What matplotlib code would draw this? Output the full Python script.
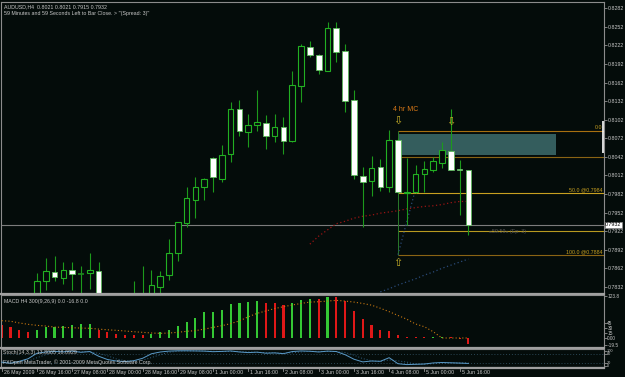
import numpy as np
import matplotlib
matplotlib.use('Agg')
import matplotlib.pyplot as plt
from matplotlib.patches import Rectangle
from matplotlib.lines import Line2D

plt.rcParams['font.family'] = ['Liberation Sans', 'DejaVu Sans']

# ---- values (AUDUSD H4)
opens = [0.7812, 0.7798, 0.7806, 0.7800, 0.7812, 0.7842, 0.7856, 0.7847, 0.7860, 0.7853,
         0.7854, 0.7857, 0.7812, 0.7800, 0.7808, 0.7802, 0.7810, 0.7815, 0.7832, 0.7851,
         0.7886, 0.7935, 0.7973, 0.7993, 0.8040, 0.8007, 0.8046, 0.8119, 0.8082, 0.8094,
         0.8097, 0.8076, 0.8091, 0.8068, 0.8157, 0.8219, 0.8206, 0.8181, 0.8250, 0.8213,
         0.8134, 0.8011, 0.8003, 0.8025, 0.7993, 0.8069, 0.7984, 0.7985, 0.8014, 0.8020,
         0.8032, 0.8052, 0.8023, 0.8021]
highs = [0.7820, 0.7815, 0.7818, 0.7816, 0.7855, 0.7878, 0.7882, 0.7872, 0.7872, 0.7865,
         0.7886, 0.7872, 0.7820, 0.7815, 0.7818, 0.7841, 0.7865, 0.7859, 0.7858, 0.7910,
         0.7937, 0.7994, 0.8009, 0.8008, 0.8041, 0.8061, 0.8131, 0.8134, 0.8112, 0.8150,
         0.8109, 0.8112, 0.8106, 0.8181, 0.8225, 0.8229, 0.8209, 0.8260, 0.8260, 0.8224,
         0.8150, 0.8026, 0.8043, 0.8038, 0.8085, 0.8072, 0.8040, 0.8029, 0.8035, 0.8042,
         0.8066, 0.8120, 0.8037, 0.8021]
lows = [0.7790, 0.7785, 0.7792, 0.7795, 0.7805, 0.7827, 0.7842, 0.7837, 0.7827, 0.7815,
        0.7829, 0.7805, 0.7795, 0.7790, 0.7795, 0.7792, 0.7800, 0.7805, 0.7820, 0.7843,
        0.7873, 0.7929, 0.7943, 0.7972, 0.7986, 0.8002, 0.8034, 0.8076, 0.8058, 0.8084,
        0.8055, 0.8066, 0.8047, 0.8066, 0.8131, 0.8203, 0.8176, 0.8180, 0.8196, 0.8115,
        0.8007, 0.7929, 0.7979, 0.7987, 0.7986, 0.7984, 0.7932, 0.7983, 0.7986, 0.8018,
        0.8024, 0.8021, 0.7948, 0.7915]
closes = [0.7798, 0.7806, 0.7800, 0.7810, 0.7841, 0.7857, 0.7848, 0.7859, 0.7852, 0.7853,
          0.7859, 0.7812, 0.7800, 0.7808, 0.7802, 0.7810, 0.7815, 0.7835, 0.7850, 0.7886,
          0.7936, 0.7975, 0.7993, 0.8006, 0.8009, 0.8045, 0.8119, 0.8083, 0.8093, 0.8098,
          0.8075, 0.8091, 0.8067, 0.8158, 0.8221, 0.8206, 0.8182, 0.8250, 0.8212, 0.8133,
          0.8012, 0.8002, 0.8024, 0.7993, 0.8070, 0.7986, 0.7985, 0.8014, 0.8022, 0.8035,
          0.8053, 0.8021, 0.8021, 0.7932]

# red dotted moving average (bars 35..53)
ma_start = 35
ma_vals = [0.7901, 0.7914, 0.7924, 0.7934, 0.7938, 0.7943, 0.7946, 0.7948, 0.7951, 0.7953,
           0.7955, 0.7958, 0.7960, 0.7962, 0.7963, 0.7965, 0.7968, 0.7970, 0.7970]
# faint blue dotted line (bars 43..53)
blue_start = 43
blue_vals = [0.7824, 0.7829, 0.7835, 0.7840, 0.7845, 0.7851, 0.7856, 0.7862, 0.7867, 0.7872, 0.7877]

macd_hist = [39, 32, 24, 18, 24, 32, 33, 36, 39, 40, 41, 24, 19, 11, 10, 9.5, 8, 11, 17, 24,
             35, 48, 59, 75, 76, 83, 98, 102, 106, 107, 103, 102, 97, 103, 110, 115, 114, 121, 120, 107,
             78, 56, 39, 24, 21, 10, 3, 2.5, 2, 2.5, 2.6, 2, -2, -16.8]
macd_signal = [50.6, 49, 44, 40, 37, 35, 32, 31, 30, 29, 28.4, 26, 24, 22.5, 20.5, 18.4, 16.6, 14.6, 13.6, 14.6,
               16.6, 19.6, 21.5, 26, 31, 36, 42, 50, 62, 72, 79, 86, 91.5, 96.5, 101, 105, 106, 108, 110, 108,
               105, 101, 96, 87, 77, 66, 55, 41, 33, 18.5, 0, 0, 0, 0]

stoch_main = [22, 15, 28, 45, 82, 90, 94, 91, 96, 88, 93, 62, 40, 30, 26, 32, 48, 78, 90, 96,
              98, 98, 97, 96, 92, 94, 97, 90, 86, 89, 82, 84, 79, 93, 97, 95, 90, 96, 93, 72,
              42, 24, 30, 28, 52, 12, 6, 8, 10, 17, 20, 18, 16, 13.8]
stoch_sig = [30, 24, 22, 29, 52, 72, 89, 92, 94, 92, 92, 81, 65, 44, 32, 29, 35, 53, 72, 88,
             95, 97, 98, 97, 95, 94, 94, 94, 91, 88, 86, 85, 82, 85, 90, 95, 94, 94, 93, 87,
             69, 46, 32, 27, 37, 31, 23, 9, 8, 12, 16, 18, 18, 18.1]

price_ticks = [0.7832, 0.7862, 0.7892, 0.7922, 0.7952, 0.7982, 0.8012, 0.8042, 0.8072,
               0.8102, 0.8132, 0.8162, 0.8192, 0.8222, 0.8252, 0.8282]
last_price = 0.7932
fib_levels = [0.8084, 0.8042, 0.7984, 0.7922, 0.7884]
fib_labels = {0.8084: '0.0', 0.7984: '50.0 @0.7984', 0.7884: '100.0 @0.7884'}

time_pos = [0, 4, 8, 12, 16, 20, 24, 28, 32, 36, 40, 44, 48, 52]
time_labels = ['26 May 2009', '26 May 16:00', '27 May 08:00', '28 May 00:00', '28 May 16:00',
               '29 May 08:00', '1 Jun 00:00', '1 Jun 16:00', '2 Jun 08:00', '3 Jun 00:00',
               '3 Jun 16:00', '4 Jun 08:00', '5 Jun 00:00', '5 Jun 16:00']

# ---- style
bg = '#040c0a'
fg = '#c8c8c8'
sep = '#a0a0a0'
bull_col = '#22b022'
fs = 3.8
W, H = 625, 377


def pos(x0, y0, x1, y1):
    return [x0 / W, 1 - y1 / H, (x1 - x0) / W, (y1 - y0) / H]


fig = plt.figure(figsize=(W / 100, H / 100), dpi=100, facecolor=bg)
ax = fig.add_axes(pos(1, 2, 604, 293))
ax2 = fig.add_axes(pos(1, 295, 604, 347))
ax3 = fig.add_axes(pos(1, 349, 604, 367))
xl = (-0.08, 68.4)

for a in (ax, ax2, ax3):
    a.set_facecolor(bg)
    a.set_xlim(*xl)
    a.yaxis.tick_right()
    a.tick_params(axis='y', colors='#909090', labelcolor=fg, labelsize=fs, length=1.8, width=0.6, pad=0.6)
    a.tick_params(axis='x', bottom=False, labelbottom=False)
    for s in a.spines.values():
        s.set_color('#8c8c8c')
        s.set_linewidth(0.8)
    a.spines['bottom'].set_visible(False)

# ---- main price panel
ax.set_ylim(0.78221, 0.82922)
ax.set_yticks(price_ticks)
ax.set_yticklabels(['%.4f' % p for p in price_ticks])

# box zone
box_x0, box_x1, box_lo, box_hi = 44.95, 62.9, 0.8045, 0.8079
ax.add_patch(Rectangle((box_x0, box_lo), box_x1 - box_x0, box_hi - box_lo,
                       facecolor='#345d5d', edgecolor='none', zorder=1))
fib_cols = ['#a87010', '#8a6414', '#c8a020', '#b89a20', '#8a6414']
for p, c in zip(fib_levels, fib_cols):
    ax.hlines(p, box_x0, xl[1], color=c, lw=0.8, zorder=1.5)
    if p in fib_labels:
        ax.text(68.2, p + 0.0001, fib_labels[p], color='#c8a020', fontsize=fs, ha='right', va='bottom')
ax.vlines(box_x0, fib_levels[-1], fib_levels[0], color='#2a7a2a', lw=0.7, zorder=1.5)

# bid line
ax.axhline(last_price, color='#7c7c7c', lw=0.8, zorder=1)

# moving average and faint lines
ax.plot(np.arange(ma_start, ma_start + len(ma_vals)), ma_vals, color='#9a1414', lw=0.9,
        ls=(0, (1, 2)), zorder=1.6)
ax.plot(np.arange(blue_start, blue_start + len(blue_vals)), blue_vals, color='#2a4a78', lw=0.9,
        ls=(0, (1, 2)), zorder=1.6)
ax.plot([45, 47], [0.7884, 0.7990], color='#2a4a78', lw=0.9, ls=(0, (1, 2)), zorder=1.6)

# candles
for i in range(len(opens)):
    o, h, l, c = opens[i], highs[i], lows[i], closes[i]
    ax.vlines(i, l, h, color='#1c9a1c', lw=0.8, zorder=2)
    if c == o:
        ax.hlines(c, i - 0.33, i + 0.33, color='#1c8a1c', lw=1.2, zorder=3)
    elif c > o:
        ax.add_patch(Rectangle((i - 0.32, o), 0.64, c - o, facecolor=bg, edgecolor=bull_col,
                               lw=0.8, zorder=3))
    else:
        ax.add_patch(Rectangle((i - 0.32, c), 0.64, o - c, facecolor='white', edgecolor='#5cb85c',
                               lw=0.6, zorder=3))

ax.vlines(68.3, 0.8049, 0.8100, color='white', lw=1.2, zorder=4, clip_on=False)

# annotations
ax.text(45.9, 0.8119, '4 hr MC', color='#d87818', fontsize=5, ha='center', va='center')
for ax_x, ax_y, glyph in ((45.0, 0.8100, '\u21e9'), (51.0, 0.8099, '\u21e9'), (45.0, 0.7870, '\u21e7')):
    ax.text(ax_x, ax_y, glyph, color='#c8b028', fontsize=8, ha='center', va='center',
            family='DejaVu Sans', zorder=5)
ax.text(55.3, 0.7922, '\u00ab59:59\u00bb (Ep: 3)', color='#5a5a5a', fontsize=fs, ha='left', va='center')
ax.text(1.002, last_price, '%.4f' % last_price, transform=ax.get_yaxis_transform(), fontsize=fs,
        color='black', ha='left', va='center',
        bbox=dict(boxstyle='square,pad=0.12', facecolor='white', edgecolor='#909090', lw=0.5))

# ---- MACD panel
ax2.set_ylim(-26.3, 125.7)
hcols = []
for i, v in enumerate(macd_hist):
    up = i > 0 and v > macd_hist[i - 1]
    hcols.append('#34c834' if up else '#e01818')
ax2.bar(np.arange(len(macd_hist)), macd_hist, width=0.24, color=hcols, zorder=2)
ax2.plot(np.arange(len(macd_signal)), macd_signal, color='#c87810', lw=0.8, ls=(0, (1, 2)), zorder=3)
ax2.set_yticks([123.8, 45, 30, 15, 0, -19.5])
ax2.set_yticklabels(['123.8', '45', '30', '15', '0.00', '-19.5'])
ax2.tick_params(axis='y', labelsize=3.4)
ax2.text(0.005, 0.93, 'MACD H4 300(9,26,9) 0.0 -16.8 0.0', transform=ax2.transAxes, color=fg,
         fontsize=fs, ha='left', va='top')

# ---- Stochastic panel
ax3.set_ylim(-10, 110)
ax3.axhline(80, color='#2a4654', lw=0.7, ls=(0, (1, 2)))
ax3.axhline(20, color='#2a4654', lw=0.7, ls=(0, (1, 2)))
ax3.plot(np.arange(len(stoch_sig)), stoch_sig, color='#2f5f80', lw=0.7, ls=(0, (1, 2)), zorder=2)
ax3.plot(np.arange(len(stoch_main)), stoch_main, color='#5a9ac8', lw=0.7, zorder=3)
ax3.set_yticks([100, 80, 20, 0])
ax3.set_yticklabels(['100', '80', '20', '0'])
ax3.tick_params(axis='y', labelsize=2.8, pad=0.4)
ax3.spines['bottom'].set_visible(True)
ax3.text(0.004, 0.78, 'Stoch(14,3,3) 13.8065 18.0929', transform=ax3.transAxes, color=fg,
         fontsize=fs, ha='left', va='center')

# time axis
for p, lab in zip(time_pos, time_labels):
    ax3.plot([p, p], [-0.05, -0.22], transform=ax3.get_xaxis_transform(), color='#909090', lw=0.6,
             clip_on=False)
    ax3.annotate(lab, xy=(p, 0), xycoords=('data', 'axes fraction'), xytext=(1.4, -4.0),
                 textcoords='offset points', color=fg, fontsize=fs, ha='left', va='center',
                 annotation_clip=False)

# header texts
fig.text(4 / W, 1 - 6.5 / H, 'AUDUSD,H4  0.8021 0.8021 0.7915 0.7932', color=fg, fontsize=fs,
         ha='left', va='center')
fig.text(4 / W, 1 - 14 / H, "59 Minutes and 59 Seconds Left to Bar Close. > ''(Spread: 3)''",
         color=fg, fontsize=fs, ha='left', va='center')
fig.text(3 / W, 1 - 362 / H, 'FXOpen MetaTrader, \u00a9 2001-2009 MetaQuotes Software Corp.',
         color=fg, fontsize=fs, ha='left', va='center')

# panel separators
for yy in (293.8, 347.8, 367.8):
    fig.add_artist(Line2D([0, 604 / W], [1 - yy / H, 1 - yy / H], color=sep, lw=1.6))

fig.savefig('out.png', dpi=100, facecolor=bg)
